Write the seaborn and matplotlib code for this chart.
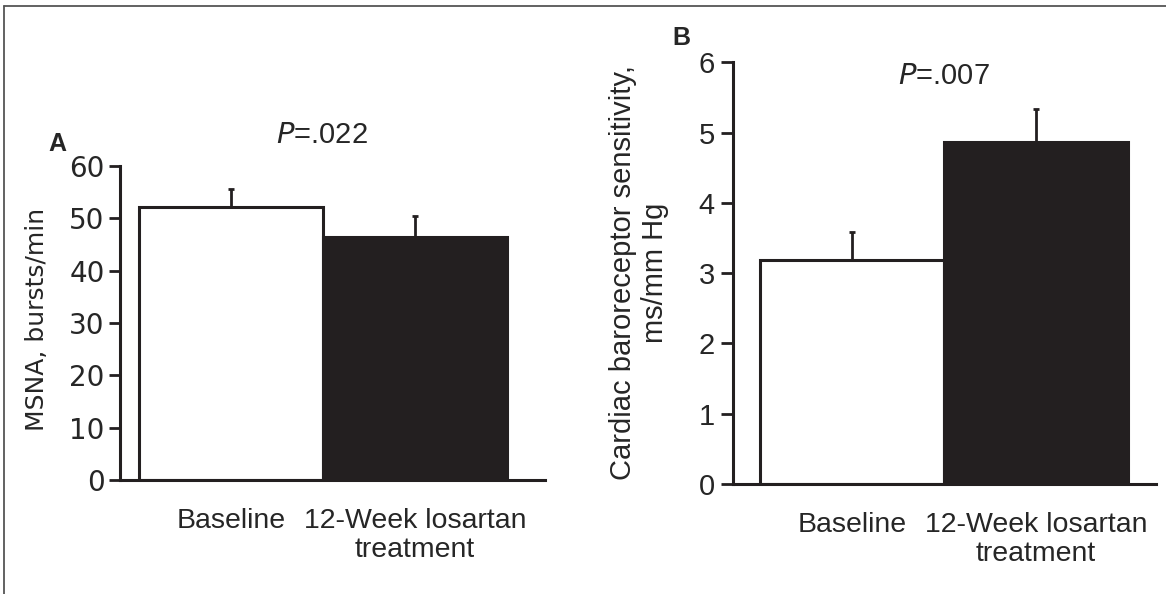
import matplotlib
matplotlib.use("Agg")
import matplotlib.pyplot as plt
import seaborn as sns
import pandas as pd
from matplotlib.lines import Line2D

# data (means and upper SEM whiskers)
groups = ["Baseline", "12-Week losartan\ntreatment"]
msna_mean = [52.1, 46.4]
msna_sem = [3.6, 4.1]
brs_mean = [3.18, 4.87]
brs_sem = [0.40, 0.47]
bar_colors = ["#ffffff", "#231f20"]
ink = "#231f20"

W, H = 1166, 594

sns.set_style("ticks")
plt.rcParams["font.family"] = ["Liberation Sans", "DejaVu Sans"]

fig = plt.figure(figsize=(W / 100, H / 100), dpi=100)

# axes boxes in pixel terms: left, bottom-y(px from top), right, top-y
def px_axes(x0, y0, x1, y1):
    return fig.add_axes([x0 / W, 1 - y0 / H, (x1 - x0) / W, (y0 - y1) / H])

ax_a = px_axes(120, 480, 545, 166)
ax_b = px_axes(733, 484, 1156, 62.3)


def draw_panel(ax, means, sems, ymax, yticks, tick_font, tick_size, xlim,
               tick_len, tick_pad):
    df = pd.DataFrame({"group": groups, "value": means})
    sns.barplot(data=df, x="group", y="value", hue="group", palette=bar_colors,
                legend=False, width=1.0, saturation=1, edgecolor=ink,
                linewidth=2.2, ax=ax, zorder=2)
    ax.errorbar(range(len(means)), means, yerr=[[0] * len(sems), sems],
                fmt="none", ecolor=ink, elinewidth=2, capsize=2.5,
                capthick=2, zorder=3)
    ax.set_ylim(0, ymax)
    ax.set_xlim(*xlim)
    ax.set_yticks(yticks)
    ax.set_yticklabels([str(t) for t in yticks], family=tick_font, fontsize=tick_size)
    ax.set_xticks(range(len(groups)))
    ax.set_xticklabels(groups, fontsize=20.5, linespacing=1.15)
    ax.tick_params(axis="x", length=0, pad=20)
    ax.tick_params(axis="y", length=tick_len, width=2, color=ink, pad=tick_pad)
    ax.set_xlabel("")
    ax.set_ylabel("")
    sns.despine(ax=ax)
    for s in ["left", "bottom"]:
        ax.spines[s].set_linewidth(2.2)
        ax.spines[s].set_color(ink)


draw_panel(ax_a, msna_mean, msna_sem, 60, [0, 10, 20, 30, 40, 50, 60],
           "DejaVu Sans", 20, (-0.603, 1.706), 8, 3)
draw_panel(ax_b, brs_mean, brs_sem, 6, [0, 1, 2, 3, 4, 5, 6],
           "Liberation Sans", 21, (-0.647, 1.652), 9, 4)


def ftext(x, y, s, **kw):
    fig.text(x / W, 1 - y / H, s, ha="center", va="center", **kw)


ftext(37.5, 319, "MSNA, bursts/min", rotation=90, fontsize=18, family="DejaVu Sans")
ftext(639, 273, "Cardiac baroreceptor sensitivity,\nms/mm Hg", rotation=90,
      fontsize=21, linespacing=1.2)

ftext(57, 144, "A", fontsize=18, fontweight="bold")
ftext(681, 38, "B", fontsize=18, fontweight="bold")
ftext(322, 135, r"$\it{P}$=.022", fontsize=21)
ftext(944, 76, r"$\it{P}$=.007", fontsize=21)

# outer frame pieces (top and left edges of the original figure box)
fig.add_artist(Line2D([4 / W, 1], [1 - 6 / H, 1 - 6 / H], color="#555555", lw=1.3))
fig.add_artist(Line2D([4 / W, 4 / W], [0, 1 - 6 / H], color="#555555", lw=1.3))

fig.savefig("out.png", dpi=100)
